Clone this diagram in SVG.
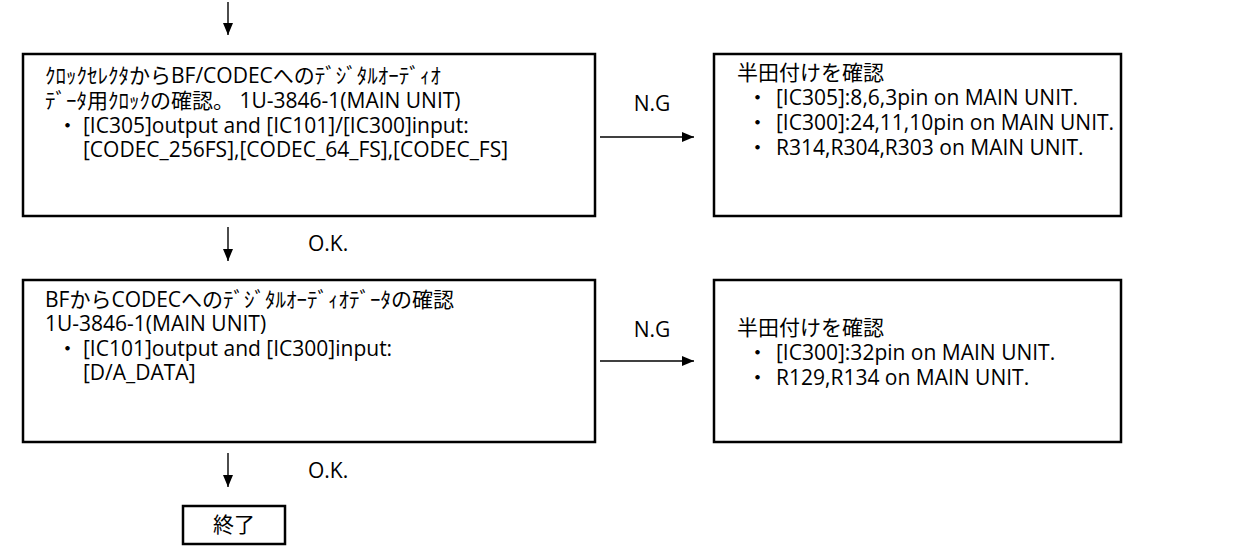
<svg xmlns="http://www.w3.org/2000/svg" width="1237" height="547" viewBox="0 0 1237 547">
<style>
  .box { fill: #ffffff; stroke: #000000; stroke-width: 2.5; }
  .t { font-family: "Open Sans", "Noto Sans CJK JP", sans-serif; font-size: 21px; fill: #000000; }
  .c { text-anchor: middle; }
  .ln { stroke: #000000; stroke-width: 1.4; fill: none; }
</style>
<defs>
  <marker id="ah" viewBox="0 0 12 10" refX="12" refY="5" markerWidth="12" markerHeight="10" markerUnits="userSpaceOnUse" orient="auto">
    <path d="M0,0 L12,5 L0,10 Z" fill="#000000"/>
  </marker>
</defs>
<rect width="1237" height="547" fill="#ffffff"/>

<g id="connectors">
  <line class="ln" x1="228" y1="2" x2="228" y2="35" marker-end="url(#ah)"/>
  <line class="ln" x1="228" y1="227" x2="228" y2="261" marker-end="url(#ah)"/>
  <line class="ln" x1="228" y1="453" x2="228" y2="487" marker-end="url(#ah)"/>
  <line class="ln" x1="600" y1="137" x2="694" y2="137" marker-end="url(#ah)"/>
  <line class="ln" x1="600" y1="361" x2="694" y2="361" marker-end="url(#ah)"/>
  <text class="t c" x="652" y="111">N.G</text>
  <text class="t c" x="652" y="337">N.G</text>
  <text class="t" x="308" y="251">O.K.</text>
  <text class="t" x="308" y="478">O.K.</text>
</g>

<g id="node-clock">
  <rect class="box" x="23" y="54" width="572" height="162"/>
  <text class="t" x="45" y="83">ｸﾛｯｸｾﾚｸﾀからBF/CODECへのﾃﾞｼﾞﾀﾙｵｰﾃﾞｨｵ</text>
  <text class="t" x="45" y="108">ﾃﾞｰﾀ用ｸﾛｯｸの確認。 1U-3846-1(MAIN UNIT)</text>
  <text class="t" x="57" y="133">・</text>
  <text class="t" x="83" y="133">[IC305]output and [IC101]/[IC300]input:</text>
  <text class="t" x="83" y="157">[CODEC_256FS],[CODEC_64_FS],[CODEC_FS]</text>
</g>

<g id="node-solder1">
  <rect class="box" x="714" y="54" width="407" height="162"/>
  <text class="t" x="737" y="80">半田付けを確認</text>
  <text class="t" x="747" y="105">・</text>
  <text class="t" x="776" y="105">[IC305]:8,6,3pin on MAIN UNIT.</text>
  <text class="t" x="747" y="130">・</text>
  <text class="t" x="776" y="130">[IC300]:24,11,10pin on MAIN UNIT.</text>
  <text class="t" x="747" y="155">・</text>
  <text class="t" x="776" y="155">R314,R304,R303 on MAIN UNIT.</text>
</g>

<g id="node-data">
  <rect class="box" x="23" y="280" width="572" height="162"/>
  <text class="t" x="45" y="307">BFからCODECへのﾃﾞｼﾞﾀﾙｵｰﾃﾞｨｵﾃﾞｰﾀの確認</text>
  <text class="t" x="45" y="331">1U-3846-1(MAIN UNIT)</text>
  <text class="t" x="57" y="356">・</text>
  <text class="t" x="83" y="356">[IC101]output and [IC300]input:</text>
  <text class="t" x="83" y="380">[D/A_DATA]</text>
</g>

<g id="node-solder2">
  <rect class="box" x="714" y="280" width="407" height="162"/>
  <text class="t" x="737" y="335">半田付けを確認</text>
  <text class="t" x="747" y="360">・</text>
  <text class="t" x="776" y="360">[IC300]:32pin on MAIN UNIT.</text>
  <text class="t" x="747" y="385">・</text>
  <text class="t" x="776" y="385">R129,R134 on MAIN UNIT.</text>
</g>

<g id="node-end">
  <rect class="box" x="183" y="506" width="102" height="38"/>
  <text class="t c" x="234" y="532">終了</text>
</g>
</svg>
